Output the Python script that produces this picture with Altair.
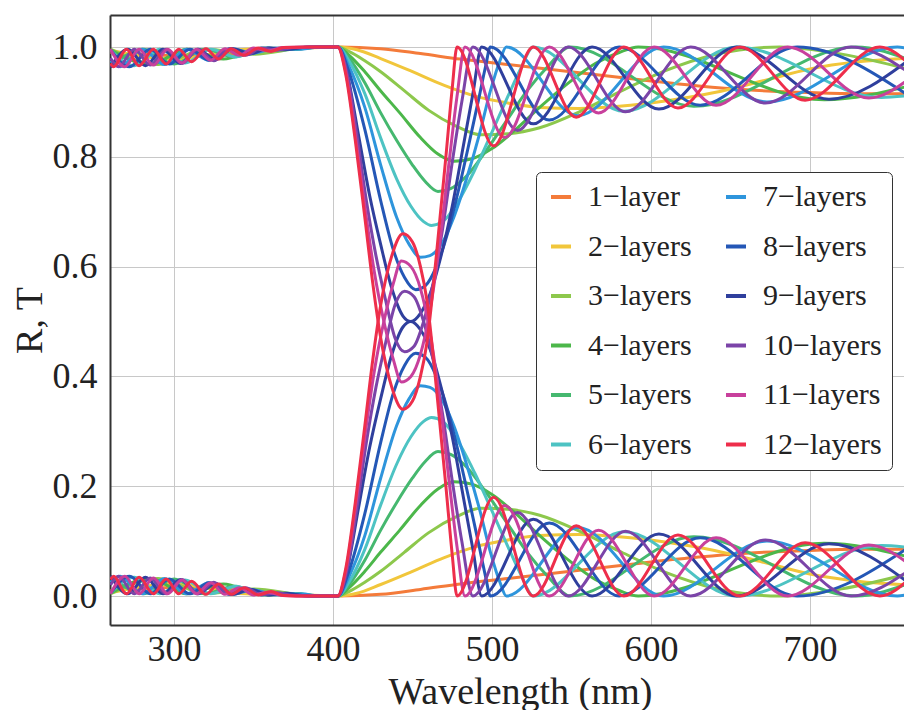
import altair as alt
import pandas as pd

# ---- series names and colours ----
NAMES = ["1−layer", "2−layers", "3−layers", "4−layers", "5−layers", "6−layers",
         "7−layers", "8−layers", "9−layers", "10−layers", "11−layers", "12−layers"]
COLORS = ["#f47b3a", "#f1c63b", "#8dc84c", "#4cb74a", "#45b86f", "#4dc3c3",
          "#2e95dc", "#2457b6", "#2f3f9d", "#7b44a8", "#c8409c", "#ee2e4b"]

# ---- read-off key points (wavelength nm, lower curve value) per series ----
WL_01 = [260, 285, 310, 335, 360, 390, 400, 403, 430, 455, 480, 510, 540, 570, 600, 630, 660, 700, 730, 764]
R_01 = [0.010, 0.014, 0.016, 0.012, 0.005, 0.0, 0.0, 0.0, 0.003, 0.012, 0.022, 0.032, 0.042, 0.052, 0.062, 0.071, 0.078, 0.083, 0.085, 0.085]

WL_02 = [260, 300, 345, 375, 392, 400, 403, 415, 430, 450, 470, 490, 510, 530, 555, 580, 610, 640, 670, 700, 730, 764]
R_02 = [0.006, 0.022, 0.004, 0.002, 0.001, 0.0, 0.0, 0.005, 0.021, 0.045, 0.07, 0.09, 0.102, 0.11, 0.112, 0.108, 0.098, 0.083, 0.062, 0.04, 0.027, 0.02]

WL_03 = [260, 290, 320, 350, 380, 392, 400, 403, 410, 420, 430, 445, 460, 478, 493, 510, 530, 555, 580, 610, 640, 681, 720, 764]
R_03 = [0.004, 0.032, 0.004, 0.013, 0.002, 0.0, 0.0, 0.0, 0.008, 0.025, 0.045, 0.08, 0.115, 0.145, 0.16, 0.158, 0.147, 0.118, 0.082, 0.042, 0.014, 0.0, 0.013, 0.042]

WL_04 = [260, 285, 308, 331, 354, 377, 392, 400, 403, 410, 420, 430, 442, 455, 466, 476, 487, 500, 515, 530, 547, 565, 580, 592, 709, 764]
R_04 = [0.005, 0.032, 0.004, 0.022, 0.003, 0.004, 0.0, 0.0, 0.0, 0.015, 0.045, 0.08, 0.12, 0.165, 0.195, 0.208, 0.204, 0.185, 0.15, 0.11, 0.068, 0.03, 0.01, 0.0, 0.096, 0.07]

WL_05 = [260, 281, 300, 319, 338, 357, 376, 392, 400, 403, 410, 420, 430, 440, 450, 458, 466, 474, 484, 496, 509, 522, 535, 549, 627, 729, 764]
R_05 = [0.036, 0.004, 0.031, 0.004, 0.018, 0.002, 0.004, 0.0, 0.0, 0.0, 0.02, 0.065, 0.12, 0.17, 0.215, 0.245, 0.263, 0.258, 0.235, 0.19, 0.135, 0.08, 0.036, 0.0, 0.108, 0.0, 0.025]

WL_06 = [260, 275, 291, 307, 323, 339, 355, 371, 387, 400, 403, 410, 420, 430, 440, 449, 457, 462, 469, 478, 489, 500, 510, 518, 526, 583, 654, 745, 764]
R_06 = [0.005, 0.034, 0.004, 0.029, 0.004, 0.018, 0.002, 0.005, 0.0, 0.0, 0.0, 0.025, 0.085, 0.166, 0.24, 0.29, 0.318, 0.325, 0.318, 0.285, 0.225, 0.155, 0.09, 0.04, 0.0, 0.117, 0.0, 0.092, 0.088]

WL_07 = [260, 266, 280, 294, 308, 322, 336, 350, 364, 380, 392, 400, 403, 410, 420, 430, 440, 448, 455, 461, 468, 476, 484, 492, 499, 505, 509, 554, 608, 673, 755, 764]
R_07 = [0.025, 0.036, 0.004, 0.032, 0.004, 0.024, 0.003, 0.011, 0.002, 0.004, 0.0, 0.0, 0.0, 0.035, 0.11, 0.215, 0.31, 0.36, 0.383, 0.38, 0.36, 0.31, 0.24, 0.16, 0.08, 0.025, 0.0, 0.125, 0.0, 0.10, 0.0, 0.004]

WL_08 = [260, 272, 285, 297, 310, 322, 335, 347, 360, 372, 385, 400, 403, 410, 420, 430, 438, 445, 452, 458, 465, 472, 479, 486, 492, 496, 499, 536, 580, 631, 692, 764]
R_08 = [0.005, 0.036, 0.004, 0.031, 0.004, 0.024, 0.003, 0.013, 0.002, 0.004, 0.0, 0.0, 0.0, 0.045, 0.15, 0.28, 0.37, 0.42, 0.442, 0.435, 0.40, 0.34, 0.26, 0.17, 0.09, 0.035, 0.0, 0.133, 0.0, 0.106, 0.0, 0.092]

WL_09 = [260, 271, 282, 293, 304, 315, 326, 337, 348, 359, 370, 381, 393, 400, 403, 409, 416, 423, 430, 437, 444, 449, 455, 461, 468, 475, 482, 488, 493.5, 526, 563, 605, 654, 712, 764]
R_09 = [0.037, 0.004, 0.034, 0.004, 0.03, 0.004, 0.023, 0.003, 0.012, 0.002, 0.005, 0.001, 0.0, 0.0, 0.0, 0.05, 0.16, 0.27, 0.36, 0.44, 0.49, 0.5, 0.485, 0.45, 0.38, 0.29, 0.18, 0.085, 0.0, 0.14, 0.0, 0.113, 0.0, 0.095, 0.02]

WL_10 = [260, 265, 275, 285, 295, 305, 315, 325, 335, 345, 355, 365, 375, 390, 400, 403, 409, 415, 421, 427, 433, 439, 445, 451, 457, 463, 469, 475, 481, 488, 516, 548, 584, 625, 672, 726, 764]
R_10 = [0.02, 0.036, 0.004, 0.033, 0.004, 0.03, 0.004, 0.025, 0.003, 0.015, 0.002, 0.006, 0.001, 0.0, 0.0, 0.0, 0.05, 0.16, 0.28, 0.38, 0.46, 0.53, 0.555, 0.545, 0.5, 0.43, 0.33, 0.21, 0.1, 0.0, 0.152, 0.0, 0.118, 0.0, 0.102, 0.0, 0.05]

WL_11 = [260, 269, 278, 287, 296, 305, 314, 323, 332, 341, 350, 359, 368, 385, 400, 403, 408, 414, 420, 426, 432, 438, 443, 449, 455, 461, 467, 473, 478, 483, 508, 536, 567, 602, 641, 686, 737, 764]
R_11 = [0.004, 0.036, 0.004, 0.033, 0.004, 0.029, 0.004, 0.024, 0.003, 0.015, 0.002, 0.007, 0.001, 0.0, 0.0, 0.0, 0.045, 0.16, 0.29, 0.41, 0.5, 0.57, 0.61, 0.6, 0.56, 0.48, 0.36, 0.21, 0.09, 0.0, 0.165, 0.0, 0.12, 0.0, 0.106, 0.0, 0.093, 0.055]

WL_12 = [260, 262, 270, 278, 287, 295, 303, 311, 320, 328, 336, 344, 353, 361, 369, 385, 400, 403, 408, 414, 420, 425, 430, 437, 444, 450, 455, 459, 465, 471, 475, 478, 501, 526, 553, 583, 617, 656, 697, 744, 764]
R_12 = [0.03, 0.036, 0.004, 0.034, 0.004, 0.031, 0.004, 0.027, 0.003, 0.022, 0.003, 0.015, 0.002, 0.008, 0.001, 0.0, 0.0, 0.0, 0.05, 0.17, 0.31, 0.43, 0.53, 0.62, 0.66, 0.645, 0.6, 0.54, 0.38, 0.2, 0.075, 0.0, 0.18, 0.0, 0.128, 0.0, 0.111, 0.0, 0.097, 0.0, 0.035]

WLS = [WL_01, WL_02, WL_03, WL_04, WL_05, WL_06, WL_07, WL_08, WL_09, WL_10, WL_11, WL_12]
RS = [R_01, R_02, R_03, R_04, R_05, R_06, R_07, R_08, R_09, R_10, R_11, R_12]

rows = []
for k, (name, wls, rs) in enumerate(zip(NAMES, WLS, RS)):
    for w, r in zip(wls, rs):
        rows.append({"series": name, "idx": k, "curve": "R", "wl": w, "v": r})
        # mirror curve: T = 1 - R (the reference shows the two as exact mirrors)
        rows.append({"series": name, "idx": k, "curve": "T", "wl": w, "v": 1 - r})
df = pd.DataFrame(rows).sort_values(["idx", "curve", "wl"]).reset_index(drop=True)

FONT = "Liberation Serif"
XSCALE = alt.Scale(domain=[259.7, 759.2], nice=False, zero=False)
YSCALE = alt.Scale(domain=[-0.0528, 1.0583], nice=False, zero=False)

lines = alt.Chart(df).mark_line(strokeWidth=3, interpolate="monotone", clip=True).encode(
    x=alt.X("wl:Q", scale=XSCALE,
            axis=alt.Axis(values=[300, 400, 500, 600, 700], title="Wavelength (nm)",
                          titleX=410, titleY=67, titleBaseline="middle",
                          labelPadding=7, domain=True, domainColor="#333", domainWidth=2)),
    y=alt.Y("v:Q", scale=YSCALE,
            axis=alt.Axis(values=[0, 0.2, 0.4, 0.6, 0.8, 1.0], format=".1f", title="R, T",
                          titleX=-80, titleY=305, titleAngle=270, titleBaseline="middle",
                          titleAlign="center", labelPadding=13,
                          domain=True, domainColor="#333", domainWidth=2)),
    color=alt.Color("series:N",
                    scale=alt.Scale(domain=NAMES, range=COLORS),
                    legend=alt.Legend(orient="none", legendX=426, legendY=157, columns=2,
                                      title=None, symbolType="stroke", symbolStrokeWidth=4,
                                      symbolSize=400, labelFont=FONT, labelFontSize=30,
                                      labelColor="#222", labelLimit=0, rowPadding=19.5,
                                      columnPadding=26, padding=10, labelOffset=12,
                                      strokeColor="#333", fillColor="white",
                                      cornerRadius=5)),
    detail="curve:N",
    order=alt.Order("wl:Q"),
)

# invisible layer that only carries the top frame line (as a label-less top axis)
top_frame = alt.Chart(df).mark_point(opacity=0).encode(
    x=alt.X("wl:Q", scale=XSCALE,
            axis=alt.Axis(orient="top", labels=False, ticks=False, grid=False, title=None,
                          domain=True, domainColor="#333", domainWidth=2)),
    y=alt.Y("v:Q", scale=YSCALE,
            axis=alt.Axis(orient="right", labels=False, ticks=False, grid=False, title=None,
                          domain=False)),
)

chart = alt.layer(lines, top_frame).resolve_axis(x="independent", y="independent").properties(
    width=794, height=610,
    autosize=alt.AutoSizeParams(type="none"),
    padding={"left": 102, "top": 7, "right": 0, "bottom": 85},
).configure_axis(
    grid=True, gridColor="#c8c8c8", gridWidth=1, ticks=False,
    labelFont=FONT, labelFontSize=36, labelColor="#222",
    titleFont=FONT, titleFontSize=38, titleFontWeight="normal", titleColor="#222",
).configure_view(strokeWidth=0)

chart.save("out.html", embed_options={"renderer": "svg", "actions": False})
